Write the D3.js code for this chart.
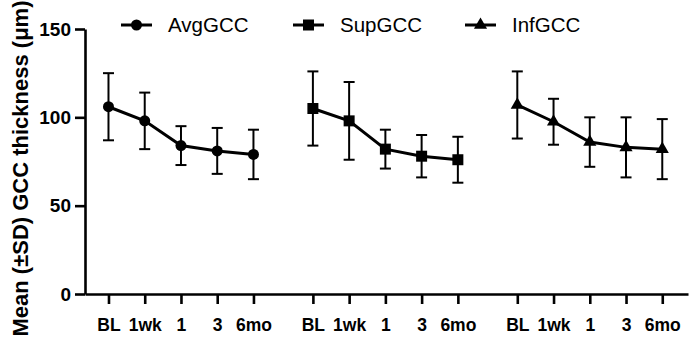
<!DOCTYPE html>
<html>
<head>
<meta charset="utf-8">
<script src="https://cdn.jsdelivr.net/npm/d3@7"></script>
<style>
  body { margin: 0; background: #fff; }
  svg { display: block; font-family: "Liberation Sans", Arial, Helvetica, sans-serif; }
</style>
</head>
<body>
<div id="chart"></div>
<script>
// data
var timepoints = ["BL", "1wk", "1", "3", "6mo"];
var series     = ["AvgGCC", "SupGCC", "InfGCC"];
var avgMean = [106, 98, 84, 81, 79];
var avgSD   = [19, 16, 11, 13, 14];
var supMean = [105, 98, 82, 78, 76];
var supSD   = [21, 22, 11, 12, 13];
var infMean = [107, 97.5, 86, 83, 82];
var infSD   = [19, 13, 14, 17, 17];
var yTicks  = [0, 50, 100, 150];

var means = [avgMean, supMean, infMean];
var sds   = [avgSD, supSD, infSD];
var symbols = [d3.symbolCircle, d3.symbolSquare, d3.symbolTriangle];
var symbolSize = [95, 121, 75];

var width  = 692;
var height = 337;
var groupGap = 5.64;   // slot offset between groups

var svg = d3.select('#chart')
    .append('svg')
    .attr('width', width)
    .attr('height', height);

var x = d3.scaleLinear()
    .domain([-0.648, 15.99])
    .range([85, 688]);
var y = d3.scaleLinear()
    .domain([0, 150])
    .range([294, 29]);

function slot(g, i) { return g * groupGap + i; }

// flat list of points
var points = [];
series.forEach(function(s, g) {
  timepoints.forEach(function(t, i) {
    points.push({ g: g, i: i, label: t, mean: means[g][i], sd: sds[g][i] });
  });
});

// axes
var axis_y = d3.axisLeft(y)
    .tickValues(yTicks)
    .tickSize(10)
    .tickSizeOuter(0)
    .tickPadding(4);
var gy = svg.append('g')
    .attr('class', 'y-axis')
    .attr('transform', 'translate(' + x.range()[0] + ',0)')
    .call(axis_y);

var axis_x = d3.axisBottom(x)
    .tickValues(points.map(function(d) { return slot(d.g, d.i); }))
    .tickFormat(function(v, k) { return points[k].label; })
    .tickSize(10)
    .tickSizeOuter(0)
    .tickPadding(15);
var gx = svg.append('g')
    .attr('class', 'x-axis')
    .attr('transform', 'translate(0,' + y(0) + ')')
    .call(axis_x);

[gx, gy].forEach(function(ax) {
  ax.select('.domain').attr('stroke', '#000').attr('stroke-width', 2.6);
  ax.selectAll('.tick line').attr('stroke', '#000').attr('stroke-width', 2.6);
  ax.selectAll('.tick text')
    .attr('fill', '#000')
    .style('font-family', '"Liberation Sans", Arial, sans-serif')
    .style('font-weight', 'bold');
});
gy.selectAll('.tick text').style('font-size', '19px');
gx.selectAll('.tick text').style('font-size', '17.5px');

// y title
svg.append('text')
   .attr('transform', 'translate(28,' + ((y(0) + y(150)) / 2 + 7) + ') rotate(-90)')
   .attr('text-anchor', 'middle')
   .style('font-size', '22px')
   .style('font-weight', 'bold')
   .text('Mean (\u00B1SD) GCC thickness (\u03BCm)');

// error bars
var capHalf = 5.5;
var bars = svg.append('g').attr('class', 'errorbars')
    .selectAll('g').data(points).enter().append('g')
    .attr('stroke', '#000').attr('stroke-width', 2);
bars.append('line')
    .attr('x1', function(d) { return x(slot(d.g, d.i)); })
    .attr('x2', function(d) { return x(slot(d.g, d.i)); })
    .attr('y1', function(d) { return y(d.mean - d.sd); })
    .attr('y2', function(d) { return y(d.mean + d.sd); });
bars.append('line')
    .attr('x1', function(d) { return x(slot(d.g, d.i)) - capHalf; })
    .attr('x2', function(d) { return x(slot(d.g, d.i)) + capHalf; })
    .attr('y1', function(d) { return y(d.mean + d.sd); })
    .attr('y2', function(d) { return y(d.mean + d.sd); });
bars.append('line')
    .attr('x1', function(d) { return x(slot(d.g, d.i)) - capHalf; })
    .attr('x2', function(d) { return x(slot(d.g, d.i)) + capHalf; })
    .attr('y1', function(d) { return y(d.mean - d.sd); })
    .attr('y2', function(d) { return y(d.mean - d.sd); });

// mean lines
var line = d3.line()
    .x(function(d) { return x(slot(d.g, d.i)); })
    .y(function(d) { return y(d.mean); });
series.forEach(function(s, g) {
  var pts = points.filter(function(d) { return d.g === g; });
  svg.append('path')
     .datum(pts)
     .attr('fill', 'none')
     .attr('stroke', '#000')
     .attr('stroke-width', 3)
     .attr('d', line);
  svg.append('g').selectAll('path').data(pts).enter().append('path')
     .attr('transform', function(d) { return 'translate(' + x(slot(d.g, d.i)) + ',' + y(d.mean) + ')'; })
     .attr('d', d3.symbol().type(symbols[g]).size(symbolSize[g]))
     .attr('fill', '#000');
});

// legend
var legend = svg.append('g').attr('class', 'legend')
    .selectAll('g').data(series).enter().append('g')
    .attr('transform', function(d, k) { return 'translate(' + (121 + k * 172) + ',25)'; });
legend.append('line')
    .attr('x1', 0).attr('x2', 31)
    .attr('stroke', '#000').attr('stroke-width', 3);
legend.append('path')
    .attr('transform', 'translate(15.5,0)')
    .attr('d', function(d, k) { return d3.symbol().type(symbols[k]).size(symbolSize[k])(); })
    .attr('fill', '#000');
legend.append('text')
    .attr('x', 47)
    .attr('dy', '0.35em')
    .style('font-size', '20.5px')
    .text(function(d) { return d; });
</script>
</body>
</html>
